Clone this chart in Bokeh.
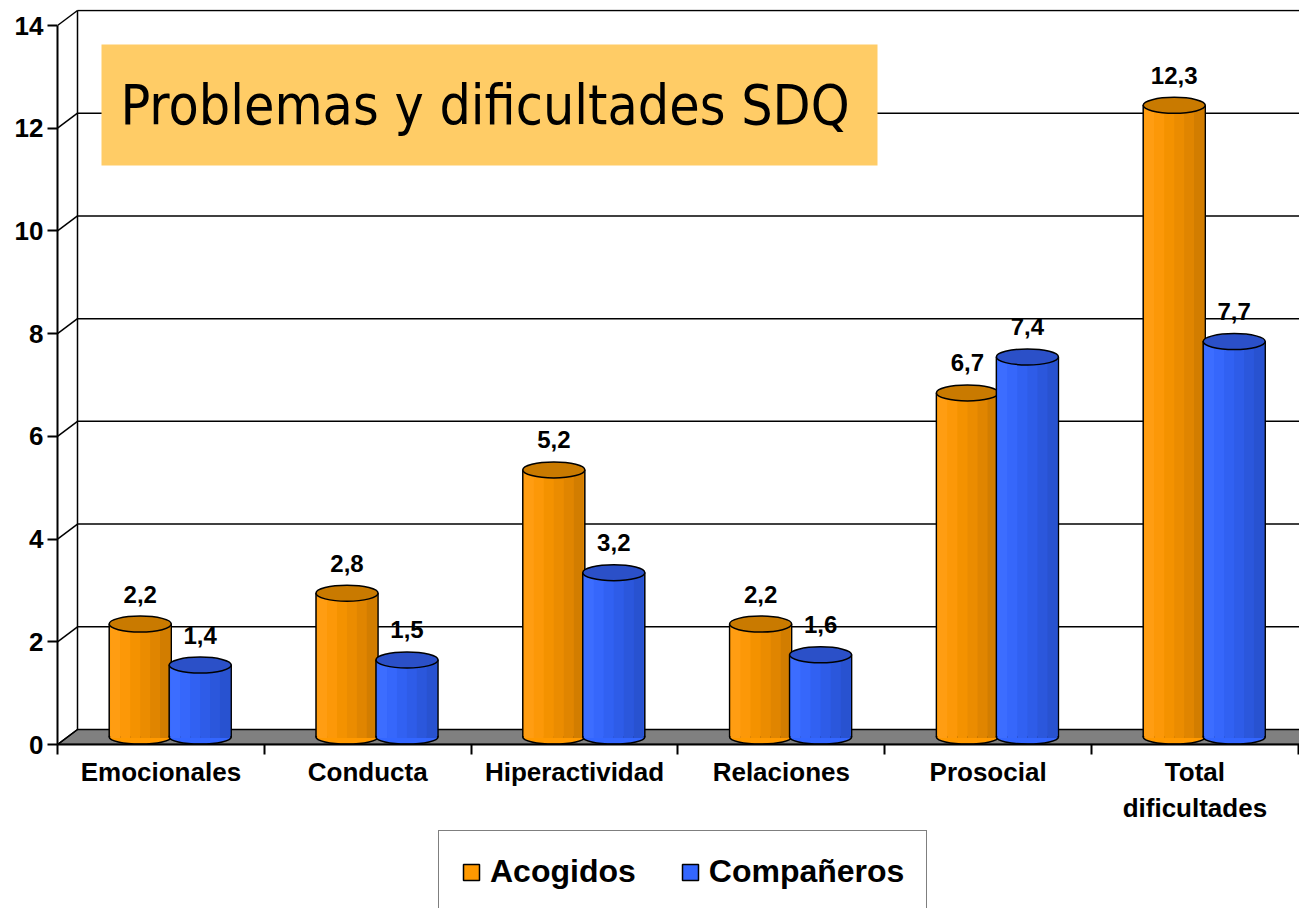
from bokeh.plotting import figure
from bokeh.layouts import column
from bokeh.models import FixedTicker, Legend, LegendItem, Label, BoxAnnotation, Range1d
from bokeh.core.properties import value
from bokeh.embed import file_html
from bokeh.resources import INLINE

# ---------------- data ----------------
categories = ["Emocionales", "Conducta", "Hiperactividad", "Relaciones", "Prosocial", "Total\ndificultades"]
acogidos = [2.2, 2.8, 5.2, 2.2, 6.7, 12.3]
companeros = [1.4, 1.5, 3.2, 1.6, 7.4, 7.7]
series_names = ["Acogidos", "Compañeros"]
y_ticks = [0, 2, 4, 6, 8, 10, 12, 14]
title_text = "Problemas y dificultades SDQ"

# ---------------- layout ----------------
W = 1299
H_MAIN = 826
H_LEG = 82
BL, BT = 57, 9
frame_h = 735
BB = H_MAIN - BT - frame_h
frame_w = W - BL
px_x = 206.8
px_y = 51.357
x_end = frame_w / px_x
y_end = frame_h / px_y
dx = 20 / px_x          # depth shift (x)
dy = 15 / px_y          # depth shift (y)
base = dy / 2           # bars stand mid-depth
y0_px = BT + frame_h    # pixel row of value 0 on the front axis

FONT = "Liberation Sans"

p = figure(width=W, height=H_MAIN, output_backend="svg", toolbar_location=None,
           x_range=Range1d(0, x_end), y_range=Range1d(0, y_end),
           min_border_left=BL, min_border_top=BT, min_border_bottom=BB, min_border_right=0,
           background_fill_color="white", border_fill_color="white")
p.outline_line_color = None
p.xgrid.visible = False
p.ygrid.visible = False

# floor
p.patch(x=[0, dx, x_end + 1, x_end + 1], y=[0, dy, dy, 0], fill_color="#808080",
        line_color="black", line_width=1.5)

# back wall grid lines
gv = [v for v in y_ticks if v > 0]
p.segment(x0=[dx] * len(gv), y0=[v + dy for v in gv], x1=[x_end + 1] * len(gv),
          y1=[v + dy for v in gv], line_color="black", line_width=1.5)
# back wall left edge
p.segment(x0=[dx], y0=[dy], x1=[dx], y1=[max(y_ticks) + dy], line_color="black", line_width=1.5)
# depth connectors from front axis ticks
p.segment(x0=[0] * len(y_ticks), y0=y_ticks, x1=[dx] * len(y_ticks),
          y1=[v + dy for v in y_ticks], line_color="black", line_width=1.5)

# ---------------- cylinders ----------------
BW = 0.30
offsets = [0.40, 0.69]
body_colors = ["#FF9900", "#3366FF"]
top_colors = ["#C97A00", "#2B50C8"]
strip_colors = [
    ["#FF9D12", "#FC9808", "#F49200", "#EB8C00", "#E08500", "#D27D00"],
    ["#3C6DFF", "#3667FB", "#3161F2", "#2E5CE8", "#2B57DC", "#2852D0"],
]

for si, vals in enumerate([acogidos, companeros]):
    xs = [i + offsets[si] for i in range(len(vals))]
    tops = [v + base for v in vals]
    p.ellipse(x=xs, y=[base] * len(xs), width=BW, height=14, height_units="screen",
              fill_color=body_colors[si], line_color="black", line_width=1.5)
    p.vbar(x=xs, bottom=base, top=tops, width=BW, fill_color=body_colors[si],
           line_color="black", line_width=1.5)
    ns = len(strip_colors[si])
    inset = 1.2 / px_x
    sw = (BW - 2 * inset) / ns
    for k, c in enumerate(strip_colors[si]):
        p.vbar(x=[x - BW / 2 + inset + sw * (k + 0.5) for x in xs], bottom=base - 0.02, top=tops,
               width=sw * 1.02, fill_color=c, line_color=None)
    p.ellipse(x=xs, y=tops, width=BW, height=16, height_units="screen",
              fill_color=top_colors[si], line_color="black", line_width=1.5)
    labels = [f"{v:.1f}".replace(".", ",") for v in vals]
    p.text(x=xs, y=tops, text=labels, text_align="center", text_baseline="alphabetic",
           y_offset=-30, text_font=value(FONT), text_font_style="bold",
           text_font_size="24px", text_color="black")

# ---------------- axes ----------------
p.yaxis.ticker = FixedTicker(ticks=y_ticks)
p.yaxis.bounds = (0, max(y_ticks))
p.yaxis.major_tick_out = 10
p.yaxis.major_tick_in = 0
p.yaxis.minor_tick_out = 0
p.yaxis.minor_tick_in = 0
p.yaxis.axis_line_width = 2
p.yaxis.major_tick_line_width = 2
p.yaxis.major_label_text_font = FONT
p.yaxis.major_label_text_font_style = "bold"
p.yaxis.major_label_text_font_size = "26px"
p.yaxis.major_label_text_color = "black"
p.yaxis.major_label_standoff = 4

centers = [i + 0.5 for i in range(len(categories))]
p.xaxis.ticker = FixedTicker(ticks=centers, minor_ticks=list(range(len(categories) + 1)))
p.xaxis.major_label_overrides = {c: lab for c, lab in zip(centers, categories)}
p.xaxis.major_tick_line_color = None
p.xaxis.major_tick_out = 0
p.xaxis.major_tick_in = 0
p.xaxis.minor_tick_out = 10
p.xaxis.minor_tick_in = 0
p.xaxis.minor_tick_line_width = 2
p.xaxis.axis_line_width = 2
p.xaxis.major_label_text_font = FONT
p.xaxis.major_label_text_font_style = "bold"
p.xaxis.major_label_text_font_size = "26px"
p.xaxis.major_label_text_color = "black"
p.xaxis.major_label_standoff = 2

# ---------------- title box ----------------
box_l = (101 - BL) / px_x
box_r = (877 - BL) / px_x
box_t = (y0_px - 44) / px_y
box_b = (y0_px - 165) / px_y
p.add_layout(BoxAnnotation(left=box_l, right=box_r, top=box_t, bottom=box_b,
                           fill_color="#FFCC66", fill_alpha=1.0, line_color=None, level="annotation"))
p.add_layout(Label(x=(120 - BL) / px_x, y=(box_t + box_b) / 2, text=title_text,
                   text_font="'DejaVu Sans Condensed', Roboto", text_font_size="55px",
                   text_baseline="middle", text_align="left", text_color="black"))

# ---------------- legend (separate strip below the chart) ----------------
q = figure(width=W, height=H_LEG, output_backend="svg", toolbar_location=None,
           x_range=Range1d(0, 1), y_range=Range1d(0, 1),
           min_border_left=BL, min_border_right=0, min_border_top=0, min_border_bottom=0,
           background_fill_color="white", border_fill_color="white")
q.outline_line_color = None
q.xaxis.visible = False
q.yaxis.visible = False
q.xgrid.visible = False
q.ygrid.visible = False
legend_items = []
for si, name in enumerate(series_names):
    # zero-height swatch renderers hidden beneath the legend box
    r = q.vbar(x=[0.5], bottom=[0.5], top=[0.5], width=0.05, fill_color=body_colors[si],
               line_color="black", line_width=1.5)
    legend_items.append(LegendItem(label=name, renderers=[r]))
leg = Legend(items=legend_items, orientation="horizontal", location=(438 - BL, -5),
             label_text_font=FONT, label_text_font_style="bold", label_text_font_size="32px",
             label_text_color="black", glyph_width=20, glyph_height=20, label_standoff=9,
             spacing=44, padding=22, margin=0, border_line_color="black", border_line_width=1.5,
             background_fill_color="white", background_fill_alpha=1.0)
q.add_layout(leg, "center")

layout = column(p, q, spacing=0)
open("out.html", "w").write(file_html(layout, INLINE))
